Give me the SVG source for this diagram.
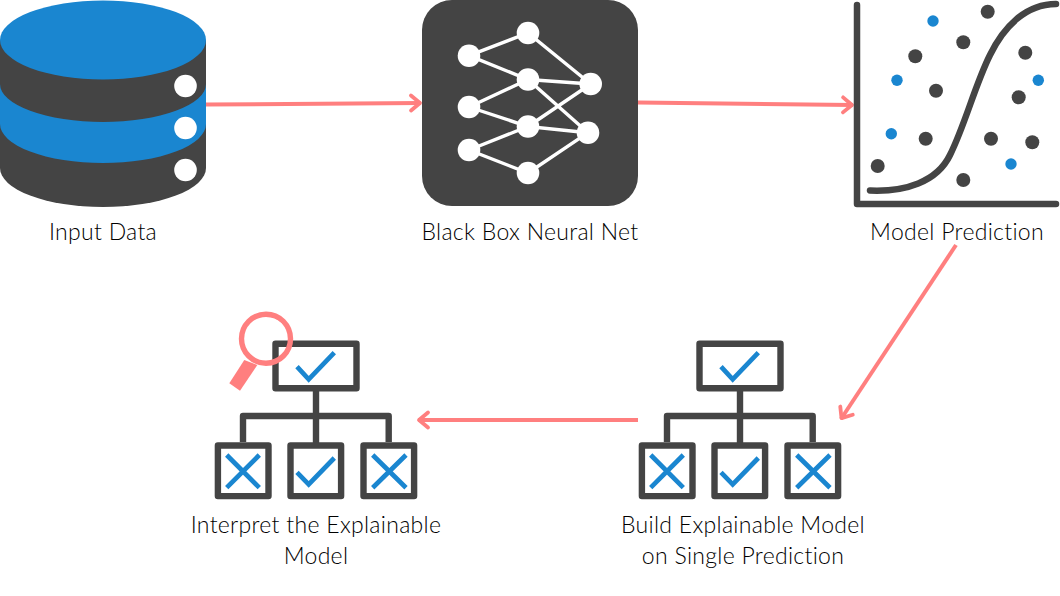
<svg xmlns="http://www.w3.org/2000/svg" width="1060" height="596" viewBox="0 0 1060 596">
<style>
.dark{fill:#444444}
.blue{fill:#1a86d0}
.w{fill:#ffffff}
.edge{fill:none;stroke:#ff7f7f;stroke-width:4;marker-end:url(#arrow)}
.nn{stroke:#ffffff;stroke-width:3.4;fill:none}
.box{fill:#ffffff;stroke:#444444;stroke-width:6.4;stroke-linejoin:round}
.tr{fill:none;stroke:#444444;stroke-width:6.4;stroke-linejoin:round}
.mark{fill:none;stroke:#1a86d0;stroke-width:4.7}
.label{font-family:"Lato","Liberation Sans",sans-serif;font-size:23px;font-weight:300;letter-spacing:0.3px;fill:#000000;text-anchor:middle}
</style>
<defs>
<marker id="arrow" markerUnits="userSpaceOnUse" markerWidth="22" markerHeight="22" viewBox="-15 -11 22 22" refX="0" refY="0" orient="auto">
<path d="M-10 -7.5 L-1 0 L-10 7.5" fill="none" stroke="#ff7f7f" stroke-width="3.8" stroke-linecap="round" stroke-linejoin="round"/>
</marker>
<g id="tree">
<rect class="box" x="699.5" y="343.8" width="81" height="44.4"/>
<path class="tr" d="M740 391V443M667 442V416H812.7V442"/>
<rect class="box" x="641.9" y="445.5" width="50.6" height="50.6"/>
<rect class="box" x="714.5" y="445.5" width="50.6" height="50.6"/>
<rect class="box" x="787.5" y="445.5" width="50.6" height="50.6"/>
<path class="mark" d="M721 366.7L732.7 379.3L758.3 352.7"/>
<path class="mark" d="M721 472.3L732.7 484.3L758.3 458"/>
<path class="mark" d="M650.7 455L683.3 487.7M683.3 455L650.7 487.7"/>
<path class="mark" d="M796.7 455L830 487.7M830 455L796.7 487.7"/>
</g>
</defs>
<rect class="w" width="1060" height="596"/>
<g id="connectors">
<path class="edge" d="M206 104.5L421 103"/>
<path class="edge" d="M638 102.5L853 105"/>
<path class="edge" d="M956 245L841 419"/>
<path class="edge" d="M638 420L418 420"/>
</g>
<g id="input-data">
<path class="dark" d="M0 40H206V168A103 39 0 0 1 0 168Z"/>
<path class="blue" d="M0 84A103 38 0 0 0 206 84V124A103 39 0 0 1 0 124Z"/>
<ellipse class="blue" cx="103" cy="40" rx="103" ry="39.5"/>
<circle class="w" cx="185.5" cy="86" r="11.3"/>
<circle class="w" cx="185.5" cy="128" r="11.3"/>
<circle class="w" cx="185.5" cy="170" r="11.3"/>
<text class="label" x="103" y="240">Input Data</text>
</g>
<g id="black-box">
<rect class="dark" x="422" y="0" width="216" height="206" rx="30"/>
<path class="nn" d="M469 55.7L528 33L590.7 84M469 55.7L528 79.5L590.7 84M469 107L528 79.5L588 132.7M469 107L528 126.5L590.7 84M469 150L528 126.5L588 132.7M469 150L528 173L588 132.7"/>
<g class="w">
<circle cx="469" cy="55.7" r="11.3"/><circle cx="528" cy="33" r="11.3"/><circle cx="469" cy="107" r="11.3"/><circle cx="528" cy="79.5" r="11.3"/><circle cx="469" cy="150" r="11.3"/><circle cx="528" cy="126.5" r="11.3"/><circle cx="528" cy="173" r="11.3"/><circle cx="590.7" cy="84" r="11.3"/><circle cx="588" cy="132.7" r="11.3"/>
</g>
<text class="label" x="530" y="240">Black Box Neural Net</text>
</g>
<g id="model-prediction">
<path d="M857 5V204H1056" fill="none" stroke="#444444" stroke-width="6.5" stroke-linecap="round" stroke-linejoin="round"/>
<path d="M870 190.5C905 192 937 182 950 155C965 125 975 85 990 55C1003 28 1025 4 1056 4" fill="none" stroke="#444444" stroke-width="6.5" stroke-linecap="round"/>
<g class="dark">
<circle cx="987.7" cy="11.7" r="7"/><circle cx="963.3" cy="42.3" r="7"/><circle cx="1025.3" cy="52.7" r="7"/><circle cx="915.3" cy="56.3" r="7"/><circle cx="936" cy="90.7" r="7"/><circle cx="1018.7" cy="97.3" r="7"/><circle cx="925.7" cy="138.7" r="7"/><circle cx="991" cy="138.7" r="7"/><circle cx="1032.3" cy="142.3" r="7"/><circle cx="877.7" cy="166" r="7"/><circle cx="963.3" cy="180" r="7"/>
</g>
<g class="blue">
<circle cx="933" cy="21" r="5.7"/><circle cx="897" cy="80.3" r="5.7"/><circle cx="1038.3" cy="80.3" r="5.7"/><circle cx="891.3" cy="133.7" r="5.7"/><circle cx="1011" cy="164" r="5.7"/>
</g>
<text class="label" x="957" y="240">Model Prediction</text>
</g>
<g id="build-model">
<use href="#tree"/>
<text class="label" x="743" y="533">Build Explainable Model</text>
<text class="label" x="743" y="564">on Single Prediction</text>
</g>
<g id="interpret-model">
<use href="#tree" x="-424"/>
<path d="M244.3 360L257.3 365L240 390.7L229.3 383.3Z" fill="#ff7f7f"/>
<circle cx="266" cy="338.7" r="24.5" fill="none" stroke="#ff7f7f" stroke-width="5.4"/>
<path d="M270 318.5A20 20 0 0 1 283 326" fill="none" stroke="#ffffff" stroke-width="1.2"/>
<text class="label" x="316" y="533">Interpret the Explainable</text>
<text class="label" x="316" y="564">Model</text>
</g>
</svg>
